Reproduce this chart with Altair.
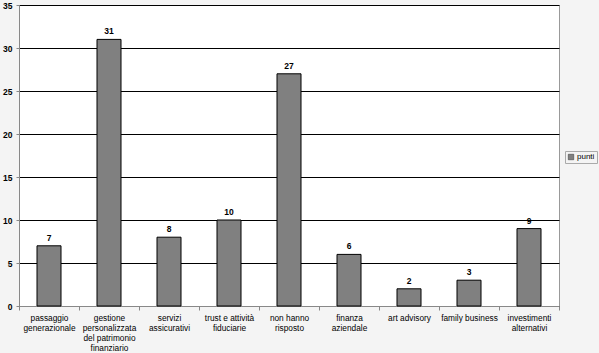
import altair as alt
import pandas as pd

categories = [
    "passaggio\ngenerazionale",
    "gestione\npersonalizzata\ndel patrimonio\nfinanziario",
    "servizi\nassicurativi",
    "trust e attività\nfiduciarie",
    "non hanno\nrisposto",
    "finanza\naziendale",
    "art advisory",
    "family business",
    "investimenti\nalternativi",
]
values = [7, 31, 8, 10, 27, 6, 2, 3, 9]
series = ["punti"] * len(values)

df = pd.DataFrame({"cat": categories, "val": values, "serie": series})

FONT = "Liberation Sans"

x = alt.X("cat:N", sort=categories, title=None,
          scale=alt.Scale(paddingInner=0, paddingOuter=0),
          axis=alt.Axis(labelAngle=0, labelExpr="split(datum.label, '\\n')",
                        labelFont=FONT, labelFontSize=8.3, labelColor="#000",
                        labelLineHeight=10, labelPadding=3, labelBaseline="top",
                        tickBand="extent", tickSize=4, tickColor="#888",
                        domainColor="#888", grid=False))
y = alt.Y("val:Q", title=None,
          scale=alt.Scale(domain=[0, 35], nice=False),
          axis=alt.Axis(values=[0, 5, 10, 15, 20, 25, 30, 35], labelFont=FONT,
                        labelFontSize=8.5, labelFontWeight="bold", labelColor="#000",
                        labelPadding=4, tickSize=3, tickColor="#888",
                        domainColor="#888", gridColor="#000", gridWidth=1))

bars = alt.Chart(df).mark_bar(size=24, stroke="#000", strokeWidth=1).encode(
    x=x, y=y,
    color=alt.Color("serie:N", title=None,
                    scale=alt.Scale(range=["#808080"]),
                    legend=alt.Legend(orient="none", legendX=546, legendY=146,
                                      symbolType="square", symbolSize=30,
                                      symbolStrokeColor="#333", symbolStrokeWidth=0.5,
                                      labelFont=FONT, labelFontSize=8, labelColor="#000",
                                      strokeColor="#aaa", padding=2, fillColor="#f4f4f4",
                                      labelOffset=2))
)

texts = alt.Chart(df).mark_text(dy=-8, font=FONT, fontSize=8.5, fontWeight="bold",
                                color="#000").encode(
    x=alt.X("cat:N", sort=categories), y="val:Q", text="val:Q")

chart = (bars + texts).properties(
    width=540, height=301,
    background="#f4f4f4",
    padding={"left": 19, "top": 5, "right": 40, "bottom": 47},
    autosize=alt.AutoSizeParams(type="none"),
).configure_view(fill="#ffffff", stroke="#999", strokeWidth=1)

chart.save("out.html", embed_options={"renderer": "svg", "actions": False})
